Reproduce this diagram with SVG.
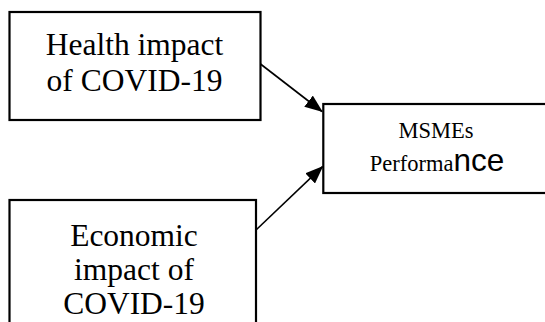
<svg xmlns="http://www.w3.org/2000/svg" width="545" height="322" viewBox="0 0 545 322">
<style>
.box{fill:#fff;stroke:#000;stroke-width:2.2}
.t{font-family:"Liberation Serif","Times New Roman",serif;fill:#000;text-anchor:middle}
.big{font-size:31.5px}
.small{font-size:22.5px}
.conn{stroke:#000;stroke-width:1.6;fill:none;marker-end:url(#ah)}
</style>
<defs>
<marker id="ah" markerUnits="userSpaceOnUse" markerWidth="18" markerHeight="14" viewBox="0 0 18 14" refX="17" refY="7" orient="auto">
<path d="M0,0 L18,7 L0,14 Z" fill="#000"/>
</marker>
</defs>
<rect width="545" height="322" fill="#fff"/>
<g id="health">
<rect class="box" x="9.5" y="12" width="251" height="108"/>
<text class="t big" x="134.5" y="54.5">Health impact</text>
<text class="t big" x="134.5" y="90.5">of COVID-19</text>
</g>
<g id="msmes">
<rect class="box" x="323.3" y="104" width="240" height="89"/>
<text class="t small" x="436" y="137.5">MSMEs</text>
<text class="t" x="437" y="171"><tspan font-size="22.5px">Performa</tspan><tspan font-size="31.5px" font-family="Liberation Sans, Arial, sans-serif">nce</tspan></text>
</g>
<g id="economic">
<rect class="box" x="9.5" y="200" width="246.5" height="140"/>
<text class="t big" x="134" y="246">Economic</text>
<text class="t big" x="134" y="279.5">impact of</text>
<text class="t big" x="134" y="314">COVID-19</text>
</g>
<g id="connectors">
<line class="conn" x1="260.5" y1="64" x2="322" y2="111.5"/>
<line class="conn" x1="256" y1="230" x2="322.5" y2="166.7"/>
</g>
</svg>
